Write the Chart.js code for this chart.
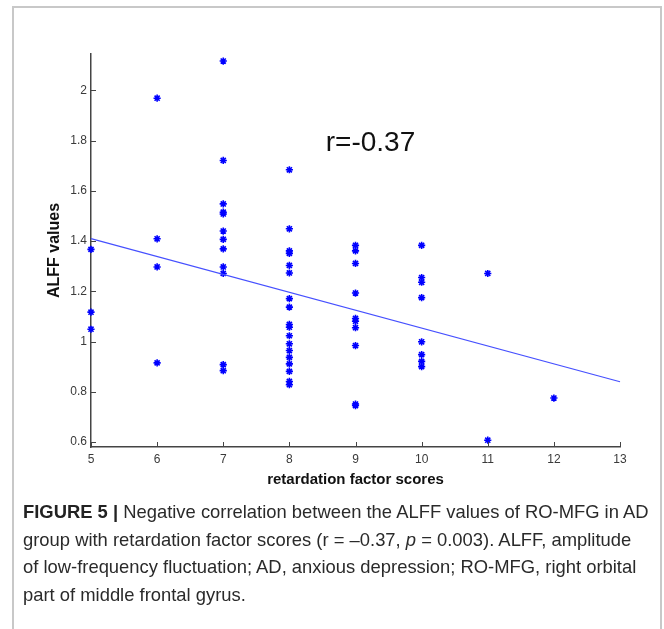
<!DOCTYPE html>
<html>
<head>
<meta charset="utf-8">
<script src="https://cdn.jsdelivr.net/npm/chart.js@4.4.1/dist/chart.umd.min.js"></script>
<style>
  body { margin: 0; background: #fff; width: 664px; height: 629px; overflow: hidden; position: relative; }
  #frame { position: absolute; left: 12px; top: 6px; width: 650px; height: 640px; border: 2px solid #c8c8c8; border-bottom: none; box-sizing: border-box; }
  #chart-wrap { position: absolute; left: 0; top: 0; width: 664px; height: 500px; }
  #caption { position: absolute; left: 23px; top: 498px; font-family: "Liberation Sans", Arial, sans-serif; font-size: 18.4px; line-height: 27.7px; color: #2a2a2a; white-space: nowrap; }
  #caption b { color: #222; }
</style>
</head>
<body>
<div id="frame"></div>
<div id="chart-wrap"><canvas id="scatter-chart" width="664" height="500"></canvas></div>
<div id="caption">
  <b>FIGURE 5 |</b> Negative correlation between the ALFF values of RO-MFG in AD<br>
  group with retardation factor scores (r = –0.37, <i>p</i> = 0.003). ALFF, amplitude<br>
  of low-frequency fluctuation; AD, anxious depression; RO-MFG, right orbital<br>
  part of middle frontal gyrus.
</div>
<script>
// retardation factor score of each subject
const scores = [
    5, 5, 5,
    6, 6, 6, 6,
    7, 7, 7, 7, 7, 7, 7, 7, 7, 7, 7, 7,
    8, 8, 8, 8, 8, 8, 8, 8, 8, 8, 8, 8, 8, 8, 8, 8, 8, 8,
    9, 9, 9, 9, 9, 9, 9, 9, 9, 9,
    10, 10, 10, 10, 10, 10, 10, 10,
    11, 11,
    12
];
// ALFF value of each subject (same order)
const alffValues = [
    1.367, 1.117, 1.049,
    1.969, 1.409, 1.297, 0.915,
    2.117, 1.721, 1.548, 1.515, 1.508, 1.44, 1.407, 1.369, 1.297, 1.271, 0.908, 0.884,
    1.684, 1.449, 1.361, 1.351, 1.303, 1.273, 1.171, 1.137, 1.068, 1.057, 1.023, 0.991, 0.964, 0.937, 0.911, 0.881, 0.841, 0.828,
    1.383, 1.361, 1.311, 1.193, 1.092, 1.081, 1.055, 0.984, 0.751, 0.745,
    1.383, 1.255, 1.236, 1.175, 0.999, 0.948, 0.921, 0.9,
    1.271, 0.607,
    0.775
];
// fitted regression line end points
const fitX = [5, 13];
const fitY = [1.41, 0.84];

const xTicks = [5, 6, 7, 8, 9, 10, 11, 12, 13];
const yTicks = [0.6, 0.8, 1, 1.2, 1.4, 1.6, 1.8, 2];
const rLabel = "r=-0.37";

const tickFont = { family: "Liberation Sans, Arial, sans-serif", size: 12 };
const axisColor = "#444";

// MATLAB style ticks pointing into the plot, plus the r label
const extrasPlugin = {
    id: "extras",
    afterDraw(chart) {
        const { ctx, scales: { x, y } } = chart;
        ctx.save();
        ctx.strokeStyle = axisColor;
        ctx.lineWidth = 1;
        ctx.beginPath();
        xTicks.forEach((v) => {
            const px = Math.round(x.getPixelForValue(v)) + 0.5;
            ctx.moveTo(px, y.bottom);
            ctx.lineTo(px, y.bottom - 5);
        });
        yTicks.forEach((v) => {
            const py = Math.round(y.getPixelForValue(v)) + 0.5;
            ctx.moveTo(x.left, py);
            ctx.lineTo(x.left + 5, py);
        });
        ctx.stroke();

        ctx.fillStyle = "#111";
        ctx.font = "28px Liberation Sans, Arial, sans-serif";
        ctx.textAlign = "left";
        ctx.textBaseline = "alphabetic";
        ctx.fillText(rLabel, x.getPixelForValue(8.55), y.getPixelForValue(1.757));
        ctx.restore();
    }
};

new Chart(document.getElementById("scatter-chart").getContext("2d"), {
    type: "scatter",
    data: {
        datasets: [
            {
                type: "line",
                data: fitX.map((v, i) => ({ x: v, y: fitY[i] })),
                borderColor: "rgb(70, 80, 255)",
                borderWidth: 1.2,
                pointRadius: 0,
                fill: false,
                clip: false,
            },
            {
                data: scores.map((v, i) => ({ x: v, y: alffValues[i] })),
                pointStyle: "star",
                pointRadius: 3.6,
                borderColor: "#0000ff",
                backgroundColor: "#0000ff",
                borderWidth: 1.6,
                clip: false,
            },
        ],
    },
    options: {
        responsive: false,
        animation: false,
        events: [],
        layout: { padding: { left: 0, top: 54, right: 44, bottom: 0 } },
        plugins: { legend: { display: false }, tooltip: { enabled: false } },
        scales: {
            x: {
                type: "linear",
                min: 5,
                max: 13,
                afterBuildTicks: (s) => { s.ticks = xTicks.map((v) => ({ value: v })); },
                afterFit: (s) => { s.height = 53; },
                grid: { display: false, drawTicks: false },
                border: { color: axisColor, width: 1.5 },
                ticks: { color: "#3a3a3a", font: tickFont, padding: 5, maxRotation: 0, callback: (v) => String(v) },
                title: {
                    display: true,
                    text: "retardation factor scores",
                    color: "#111",
                    font: { family: "Liberation Sans, Arial, sans-serif", size: 15, weight: "bold" },
                    padding: { top: 0, bottom: 11 },
                },
            },
            y: {
                type: "linear",
                min: 0.58,
                max: 2.145,
                afterBuildTicks: (s) => { s.ticks = yTicks.map((v) => ({ value: v })); },
                afterFit: (s) => { s.width = 91; },
                grid: { display: false, drawTicks: false },
                border: { color: axisColor, width: 1.5 },
                ticks: { color: "#3a3a3a", font: tickFont, padding: 4, callback: (v) => String(v) },
                title: {
                    display: true,
                    text: "ALFF values",
                    color: "#111",
                    font: { family: "Liberation Sans, Arial, sans-serif", size: 16, weight: "bold" },
                    padding: { top: 45, bottom: 0 },
                },
            },
        },
    },
    plugins: [extrasPlugin],
});
</script>
</body>
</html>
